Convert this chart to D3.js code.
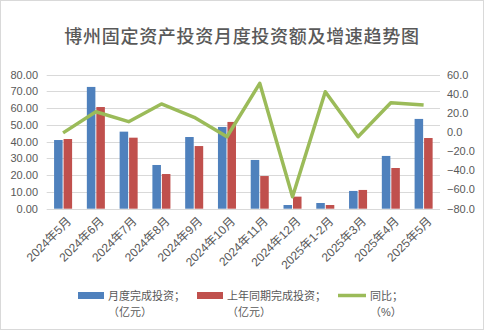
<!DOCTYPE html>
<html>
<head>
<meta charset="utf-8">
<script src="https://cdn.jsdelivr.net/npm/d3@7"></script>
<style>
  body { margin: 0; background: #fff; }
  text { font-family: "Liberation Sans", "Noto Sans CJK SC", sans-serif; }
</style>
</head>
<body>
<div id="chart"></div>
<script>
var months = ["2024年5月", "2024年6月", "2024年7月", "2024年8月", "2024年9月", "2024年10月",
    "2024年11月", "2024年12月", "2025年1-2月", "2025年3月", "2025年4月", "2025年5月"];
var monthly = [41.0, 72.7, 46.0, 26.1, 42.8, 48.8, 29.1, 2.2, 3.4, 10.6, 31.5, 53.6];
var lastYear = [41.6, 60.7, 42.4, 20.7, 37.4, 51.8, 19.5, 7.2, 2.2, 11.2, 24.3, 42.2];
var growth = [-0.8, 21.3, 10.9, 29.4, 15.5, -4.8, 51.0, -67.5, 42.2, -4.8, 30.7, 28.3];
var leftTicks = [0, 10, 20, 30, 40, 50, 60, 70, 80];
var rightTicks = [-80, -60, -40, -20, 0, 20, 40, 60];

var colors = ["#4F81BD", "#C0504D", "#9BBB59"];

function draw() {
    var W = 484, H = 330;
    var plotLeft = 46.7, plotRight = 440, plotTop = 74.7, plotBottom = 208.7;

    var svg = d3.select("#chart").append("svg")
        .attr("width", W)
        .attr("height", H);

    svg.append("rect")
        .attr("x", 0.5).attr("y", 0.5)
        .attr("width", W - 1).attr("height", H - 1)
        .attr("fill", "#fff")
        .attr("stroke", "#d9d9d9");

    // title
    svg.append("text")
        .attr("x", W / 2)
        .attr("y", 43)
        .attr("text-anchor", "middle")
        .style("font-family", "'Noto Sans CJK SC'")
        .style("font-weight", "500")
        .style("font-size", "18px")
        .style("letter-spacing", "0.7px")
        .style("fill", "#595959")
        .text("博州固定资产投资月度投资额及增速趋势图");

    // scales
    var x = d3.scaleBand()
        .domain(months)
        .range([plotLeft, plotRight])
        .paddingInner(0.45)
        .paddingOuter(0.225);

    var x1 = d3.scaleBand()
        .domain([0, 1])
        .range([0, x.bandwidth()])
        .paddingInner(0.1);

    var y = d3.scaleLinear().domain([0, 80]).range([plotBottom, plotTop]);
    var y2 = d3.scaleLinear().domain([-80, 60]).range([plotBottom, plotTop]);

    // gridlines
    svg.append("g").selectAll("line")
        .data(leftTicks)
        .enter().append("line")
        .attr("x1", plotLeft).attr("x2", plotRight)
        .attr("y1", function(d) { return Math.round(y(d)) + 0.5; })
        .attr("y2", function(d) { return Math.round(y(d)) + 0.5; })
        .attr("stroke", "#d9d9d9");

    // left axis labels
    svg.append("g").selectAll("text")
        .data(leftTicks)
        .enter().append("text")
        .attr("x", 38)
        .attr("y", function(d) { return y(d); })
        .attr("dy", "0.35em")
        .attr("text-anchor", "end")
        .style("font-size", "11px")
        .style("fill", "#595959")
        .text(function(d) { return d3.format(".2f")(d); });

    // right axis labels
    svg.append("g").selectAll("text")
        .data(rightTicks)
        .enter().append("text")
        .attr("x", 447)
        .attr("y", function(d) { return y2(d); })
        .attr("dy", "0.35em")
        .attr("text-anchor", "start")
        .style("font-size", "11px")
        .style("fill", "#595959")
        .text(function(d) { return d3.format(".1f")(d); });

    // bars
    [monthly, lastYear].forEach(function(vals, s) {
        svg.append("g").selectAll("rect")
            .data(vals)
            .enter().append("rect")
            .attr("x", function(d, i) { return x(months[i]) + x1(s); })
            .attr("width", x1.bandwidth())
            .attr("y", function(d) { return y(d); })
            .attr("height", function(d) { return y(0) - y(d); })
            .attr("fill", colors[s]);
    });

    // growth line
    var line = d3.line()
        .x(function(d, i) { return x(months[i]) + x.bandwidth() / 2; })
        .y(function(d) { return y2(d); });

    svg.append("path")
        .datum(growth)
        .attr("d", line)
        .attr("fill", "none")
        .attr("stroke", colors[2])
        .attr("stroke-width", 3.5)
        .attr("stroke-linejoin", "round");

    // x labels
    svg.append("g").selectAll("text")
        .data(months)
        .enter().append("text")
        .attr("transform", function(d) {
            return "translate(" + (x(d) + x.bandwidth() / 2 + 6) + "," + 219 + ")rotate(-45)";
        })
        .attr("text-anchor", "end")
        .attr("dy", "0.35em")
        .style("font-size", "12px")
        .style("fill", "#595959")
        .text(function(d) { return d; });

    // legend
    var legend = [
        { x: 78, label: "月度完成投资；", unit: "（亿元）", type: "rect" },
        { x: 197, label: "上年同期完成投资；", unit: "（亿元）", type: "rect" },
        { x: 338, label: "同比；", unit: "（%）", type: "line" }
    ];

    svg.append("g").selectAll("g")
        .data(legend)
        .enter().append("g")
        .each(function(d, i) {
            var g = d3.select(this);
            if (d.type == "rect") {
                g.append("rect")
                    .attr("x", d.x).attr("y", 292)
                    .attr("width", 26).attr("height", 7)
                    .attr("fill", colors[i]);
            } else {
                g.append("line")
                    .attr("x1", d.x).attr("x2", d.x + 28)
                    .attr("y1", 295.5).attr("y2", 295.5)
                    .attr("stroke", colors[i])
                    .attr("stroke-width", 3.5);
            }
            g.append("text")
                .attr("x", d.x + (d.type == "rect" ? 30 : 32))
                .attr("y", 300)
                .style("font-size", "11px")
                .style("fill", "#595959")
                .text(d.label);
            g.append("text")
                .attr("x", d.x + (d.type == "rect" ? 30 : 32))
                .attr("y", 315.5)
                .style("font-size", "11px")
                .style("fill", "#595959")
                .text(d.unit);
        });
}

draw();
</script>
</body>
</html>
